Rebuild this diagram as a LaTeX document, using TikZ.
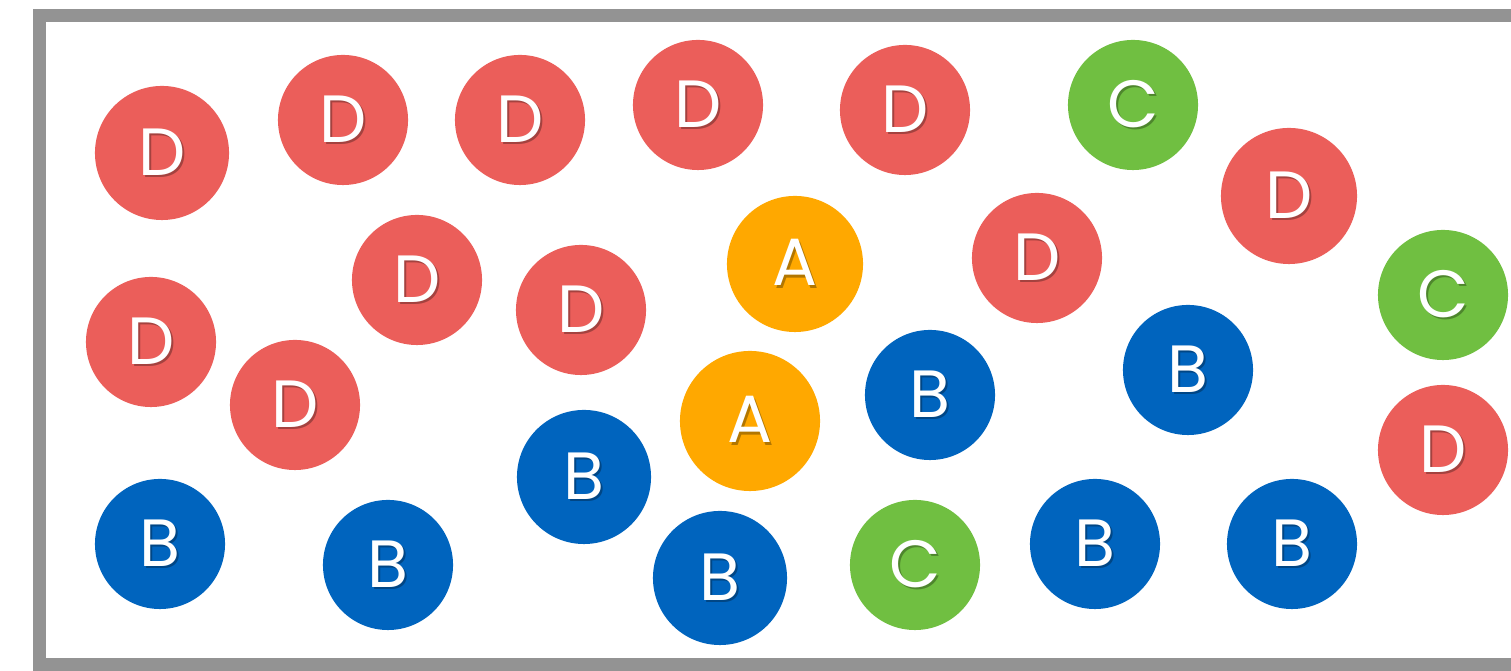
\documentclass[tikz,border=0pt]{standalone}
\usepackage{fontspec}
\setmainfont{Poppins}
\definecolor{cA}{HTML}{FFA800}
\definecolor{cB}{HTML}{0064BE}
\definecolor{cC}{HTML}{70BF41}
\definecolor{cD}{HTML}{EB5E5A}
\definecolor{frame}{HTML}{939393}
\newcommand{\sh}[2]{\makebox[0pt][l]{\kern0.6pt\raisebox{-0.7pt}{\color{#1!70!black}#2}}#2}
\begin{document}
\begin{tikzpicture}[x=0.01cm, y=-0.01cm,
  ball/.style={circle, inner sep=0pt, minimum size=1.3cm, fill=#1, text=white,
    font=\fontsize{19}{19}\selectfont},
  aball/.style={ball=cA}, bball/.style={ball=cB},
  cball/.style={ball=cC}, dball/.style={ball=cD}]
  \useasboundingbox (0,0) rectangle (1511,671);
  \draw[frame, line width=0.13cm] (39.5,15.5) rectangle (1600,664.5);
  % red
  \foreach \x/\y [count=\i] in {343/120, 520/120, 698/105, 905/110,
      417/280, 581/310, 1037/258, 151/342, 295/405, 1443/450}
    \node[dball] (d\i) at (\x,\y) {\sh{cD}{D}};
  \node[dball, minimum size=1.34cm] (d11) at (162,153) {\sh{cD}{D}};
  \node[dball, minimum size=1.36cm] (d12) at (1289,196) {\sh{cD}{D}};
  % green
  \foreach \x/\y [count=\i] in {1133/105, 1443/295, 915/565}
    \node[cball] (c\i) at (\x,\y) {\sh{cC}{C}};
  % orange
  \node[aball, minimum size=1.36cm] (a1) at (795,264) {\sh{cA}{A}};
  \node[aball, minimum size=1.4cm] (a2) at (750,421) {\sh{cA}{A}};
  % blue
  \foreach \x/\y [count=\i] in {160/544, 388/565, 930/395,
      1188/370, 1095/544, 1292/544}
    \node[bball] (b\i) at (\x,\y) {\sh{cB}{B}};
  \node[bball, minimum size=1.34cm] (b7) at (584,477) {\sh{cB}{B}};
  \node[bball, minimum size=1.34cm] (b8) at (720,578) {\sh{cB}{B}};
\end{tikzpicture}
\end{document}
